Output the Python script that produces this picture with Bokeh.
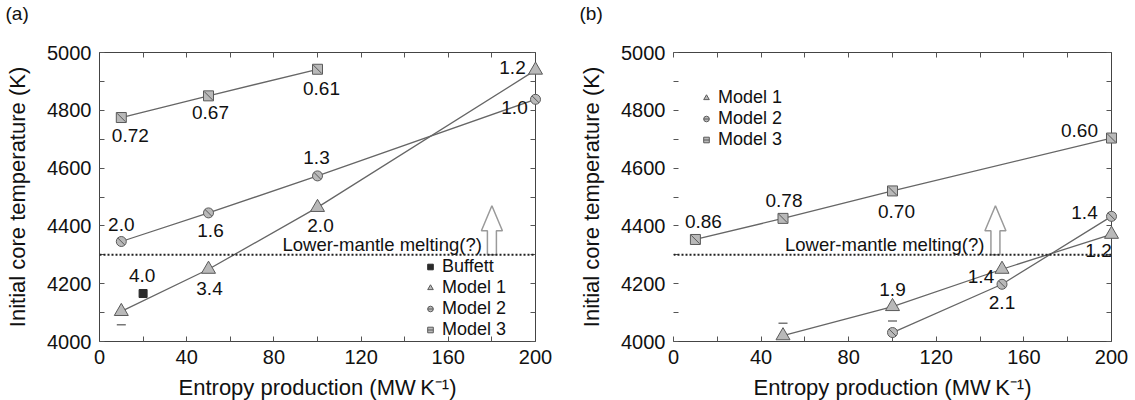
import numpy as np
from bokeh.plotting import figure
from bokeh.layouts import row
from bokeh.models import (LinearAxis, FixedTicker, Span, Legend, LegendItem,
                          ColumnDataSource, CustomJSTickFormatter, Range1d, Title)
from bokeh.embed import file_html
from bokeh.resources import INLINE
from bokeh.core.properties import value

# ---------------- data ----------------
x_ticks = [0, 40, 80, 120, 160, 200]
x_minor = [20, 60, 100, 140, 180]
y_ticks = [4000, 4200, 4400, 4600, 4800, 5000]
y_minor = [4100, 4300, 4500, 4700, 4900]

# panel (a)
a_m1_x = [10, 50, 100, 200]
a_m1_y = [4104, 4250, 4464, 4939]
a_m1_lab = ["", "3.4", "2.0", "1.2"]
a_m2_x = [10, 50, 100, 200]
a_m2_y = [4346, 4445, 4573, 4838]
a_m2_lab = ["2.0", "1.6", "1.3", "1.0"]
a_m3_x = [10, 50, 100]
a_m3_y = [4775, 4850, 4942]
a_m3_lab = ["0.72", "0.67", "0.61"]
a_buf_x = [20]
a_buf_y = [4166]
a_buf_lab = ["4.0"]
a_dash_x = [10]
a_dash_y = [4058]

# panel (b)
b_m1_x = [50, 100, 150, 200]
b_m1_y = [4020, 4121, 4250, 4371]
b_m1_lab = ["", "1.9", "1.4", "1.2"]
b_m2_x = [100, 150, 200]
b_m2_y = [4031, 4198, 4433]
b_m2_lab = ["", "2.1", "1.4"]
b_m3_x = [10, 50, 100, 200]
b_m3_y = [4353, 4426, 4521, 4704]
b_m3_lab = ["0.86", "0.78", "0.70", "0.60"]
b_dash_x = [50, 100]
b_dash_y = [4063, 4071]

melt_level = 4300
melt_text = "Lower-mantle melting(?)"
a_arrow_x = 180
b_arrow_x = 147
arrow_top = 4470

# ---------------- styles ----------------
FONT = "Liberation Sans"
LINE_C = "#666666"
MK_FILL = "#b9b9b9"
MK_LINE = "#5a5a5a"
TXT = "#111111"


def make_fig(panel, frame_w, left, right):
    p = figure(frame_width=frame_w, frame_height=289,
               x_range=Range1d(0, 200), y_range=Range1d(4000, 5000),
               output_backend="svg", toolbar_location=None,
               min_border_left=left, min_border_right=right,
               min_border_top=52, min_border_bottom=59,
               background_fill_color="white", border_fill_color="white")
    p.outline_line_color = None
    p.grid.visible = False
    for ax in (p.xaxis[0], p.yaxis[0]):
        ax.axis_line_color = "#444444"
        ax.major_tick_in = 5
        ax.major_tick_out = 0
        ax.minor_tick_in = 5
        ax.minor_tick_out = 0
        ax.major_tick_line_color = "#555555"
        ax.minor_tick_line_color = "#555555"
        ax.major_label_text_font = FONT
        ax.major_label_text_font_size = "20px"
        ax.major_label_text_color = TXT
        ax.axis_label_text_font = FONT
        ax.axis_label_text_font_size = "22px"
        ax.axis_label_text_font_style = "normal"
        ax.axis_label_text_color = TXT
    p.xaxis.ticker = FixedTicker(ticks=x_ticks, minor_ticks=x_minor)
    p.yaxis.ticker = FixedTicker(ticks=y_ticks, minor_ticks=y_minor)
    p.xaxis.major_label_standoff = 8
    p.xaxis.axis_label_standoff = 8
    p.yaxis.major_label_standoff = 8
    p.yaxis.axis_label_standoff = 14
    p.xaxis.axis_label = "Entropy production (MW\u2009K\u207b\u00b9)"
    p.yaxis.axis_label = "Initial core temperature (K)"
    if panel == "b":
        p.yaxis.axis_line_color = None
    empty = CustomJSTickFormatter(code="return ''")
    top = LinearAxis(ticker=FixedTicker(ticks=x_ticks, minor_ticks=x_minor), formatter=empty)
    rgt = LinearAxis(ticker=FixedTicker(ticks=y_ticks, minor_ticks=y_minor), formatter=empty)
    for ax in (top, rgt):
        ax.axis_line_color = "#444444"
        ax.major_tick_in = 5
        ax.major_tick_out = 0
        ax.minor_tick_in = 5
        ax.minor_tick_out = 0
        ax.major_tick_line_color = "#555555"
        ax.minor_tick_line_color = "#555555"
        ax.major_label_text_font_size = "0px"
        ax.major_label_standoff = 0
    p.add_layout(top, "above")
    p.add_layout(rgt, "right")
    # spacer pushes the panel tag up into the top margin
    p.add_layout(Title(text=" ", text_font_size="24px", standoff=0), "above")
    p.add_layout(Title(text="(%s)" % panel, align="left", offset=-94, standoff=0,
                       text_font=FONT, text_font_size="19px", text_color=TXT,
                       text_font_style="normal"), "above")
    # melting line
    p.add_layout(Span(location=melt_level, dimension="width", line_color="#222222",
                      line_dash="2 2", line_width=2))
    return p


def add_arrow(p, frame_w, ax_x, text_xoff):
    pxx = frame_w / 200.0
    pxy = 289 / 1000.0
    hx = 4.5 / pxx
    Hx = 10.5 / pxx
    hy = 25 / pxy
    y0, y1 = melt_level, arrow_top
    xs = [ax_x - hx, ax_x - hx, ax_x - Hx, ax_x, ax_x + Hx, ax_x + hx, ax_x + hx]
    ys = [y0, y1 - hy, y1 - hy, y1, y1 - hy, y1 - hy, y0]
    p.patch(xs, ys, fill_color="white", line_color="#9a9a9a", line_width=1.5)
    p.text(x=[ax_x], y=[melt_level], text=[melt_text], x_offset=text_xoff, y_offset=-10,
           text_font=value(FONT), text_font_size="18.5px", text_color=TXT,
           text_align="right", text_baseline="middle")


def series(p, xs, ys, kind, fill=MK_FILL, line=True, lvl="overlay"):
    if line:
        p.line(xs, ys, line_color=LINE_C, line_width=1.3)
    rs = []
    if kind == "tri":
        rs.append(p.scatter(xs, ys, marker="triangle", size=14, fill_color=fill,
                            line_color=MK_LINE, line_width=1, level=lvl))
    elif kind == "circ":
        rs.append(p.scatter(xs, ys, marker="circle", size=10, fill_color=fill,
                            line_color=MK_LINE, line_width=1, level=lvl))
        rs.append(p.scatter(xs, ys, marker="dash", size=10, angle=-np.pi / 4,
                            line_color=MK_LINE, line_width=1, level=lvl))
    elif kind == "sq":
        rs.append(p.scatter(xs, ys, marker="square", size=10, fill_color=fill,
                            line_color=MK_LINE, line_width=1, level=lvl))
        rs.append(p.scatter(xs, ys, marker="dash", size=12, angle=-np.pi / 4,
                            line_color=MK_LINE, line_width=1, level=lvl))
    elif kind == "buf":
        rs.append(p.scatter(xs, ys, marker="square", size=8, fill_color="#2a2a2a",
                            line_color="#2a2a2a", line_width=1, level=lvl))
    return rs


def labels(p, xs, ys, labs, offs):
    src = ColumnDataSource(dict(x=xs, y=ys, t=labs,
                                dx=[o[0] for o in offs], dy=[o[1] for o in offs]))
    p.text(x="x", y="y", text="t", x_offset="dx", y_offset="dy", source=src,
           text_font=value(FONT), text_font_size="19px", text_color=TXT,
           text_align="center", text_baseline="middle", level="overlay")


def dashes(p, xs, ys):
    p.scatter(xs, ys, marker="dash", size=9, line_color="#777777", line_width=1.5)


# ---------------- panel (a) ----------------
FW_A = 436
pa = make_fig("a", FW_A, 99, 25)
add_arrow(pa, FW_A, a_arrow_x, -10)
r_a3 = series(pa, a_m3_x, a_m3_y, "sq")
r_a2 = series(pa, a_m2_x, a_m2_y, "circ")
r_a1 = series(pa, a_m1_x, a_m1_y, "tri")
r_ab = series(pa, a_buf_x, a_buf_y, "buf", line=False)
dashes(pa, a_dash_x, a_dash_y)
labels(pa, a_m3_x, a_m3_y, a_m3_lab, [(9, 18), (2, 17), (4, 19)])
labels(pa, a_m2_x, a_m2_y, a_m2_lab, [(0, -17), (2, 18), (-1, -18), (-21, 8)])
labels(pa, a_m1_x, a_m1_y, a_m1_lab, [(0, 0), (1, 19), (3, 18), (-23, -3)])
labels(pa, a_buf_x, a_buf_y, a_buf_lab, [(-1, -18)])
leg_a = Legend(items=[LegendItem(label="Buffett", renderers=r_ab),
                      LegendItem(label="Model 1", renderers=r_a1),
                      LegendItem(label="Model 2", renderers=r_a2),
                      LegendItem(label="Model 3", renderers=r_a3)],
               location=(324, 1))
pa.add_layout(leg_a)

# ---------------- panel (b) ----------------
FW_B = 438
pb = make_fig("b", FW_B, 113, 24)
add_arrow(pb, FW_B, b_arrow_x, -11)
r_b3 = series(pb, b_m3_x, b_m3_y, "sq")
r_b2 = series(pb, b_m2_x, b_m2_y, "circ")
r_b1 = series(pb, b_m1_x, b_m1_y, "tri")
dashes(pb, b_dash_x, b_dash_y)
labels(pb, b_m3_x, b_m3_y, b_m3_lab, [(8, -18), (1, -18), (4, 21), (-32, -8)])
labels(pb, b_m1_x, b_m1_y, b_m1_lab, [(0, 0), (0, -17), (-21, 7), (-13, 16)])
labels(pb, b_m2_x, b_m2_y, b_m2_lab, [(0, 0), (0, 18), (-27, -4)])
leg_b = Legend(items=[LegendItem(label="Model 1", renderers=r_b1),
                      LegendItem(label="Model 2", renderers=r_b2),
                      LegendItem(label="Model 3", renderers=r_b3)],
               location=(26, 191))
pb.add_layout(leg_b)

for lg in (leg_a, leg_b):
    lg.background_fill_alpha = 0
    lg.border_line_color = None
    lg.padding = 0
    lg.margin = 0
    lg.spacing = 0
    lg.glyph_width = 14
    lg.glyph_height = 19
    lg.label_height = 19
    lg.label_standoff = 5
    lg.label_text_font = FONT
    lg.label_text_font_size = "18px"
    lg.label_text_color = TXT
    lg.label_text_baseline = "middle"

layout = row(pa, pb)
open("out.html", "w").write(file_html(layout, INLINE))
